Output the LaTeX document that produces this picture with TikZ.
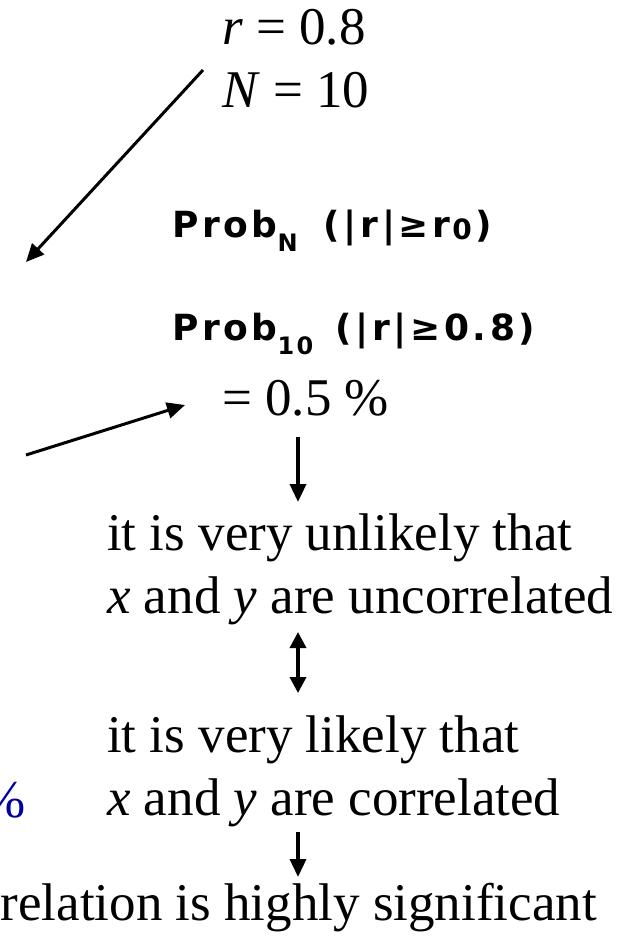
\documentclass[tikz,border=0pt]{standalone}
\usepackage{fontspec}
\setmainfont{Liberation Serif}
\newfontfamily\handfont[LetterSpace=10]{DejaVu Sans}
\usepackage{xcolor}
\usetikzlibrary{arrows.meta}
\definecolor{slideblue}{RGB}{0,0,160}

\begin{document}
\begin{tikzpicture}[x=1pt, y=-1pt,
    txt/.style={inner sep=0pt, anchor=base west, font=\fontsize{53}{64}\selectfont},
    hand/.style={inner sep=0pt, anchor=base west, font=\handfont\bfseries\fontsize{36}{42}\selectfont},
    arrow/.style={-{Triangle[length=18pt, width=16pt]}, line width=3.5pt},
    darrow/.style={{Triangle[length=16pt, width=16pt]}-{Triangle[length=16pt, width=16pt]}, line width=3.5pt}]

\useasboundingbox (0,0) rectangle (633,936);
\clip (0,0) rectangle (633,936);

% Given values
\node[txt] (r) at (222,45) {\textit{r} = 0.8};
\node[txt] (n) at (222,108) {\textit{N} = 10};

% Handwritten probabilities
\node[hand] (probn) at (172,237) {Prob\raisebox{-14pt}{\fontsize{24}{24}\selectfont N}\hspace{10pt} (|r|≥r\hspace{2pt}\raisebox{-2pt}{\fontsize{28}{28}\selectfont 0}\hspace{4pt})};
\node[hand] (prob10) at (172,340) {Prob\raisebox{-14pt}{\fontsize{24}{24}\selectfont 10}\hspace{6pt} (|r|≥0.8)};
\node[txt] (eq) at (222,415) {= 0.5 \%};

% Conclusions
\node[txt] (unl1) at (107,550) {it is very unlikely that};
\node[txt] (unl2) at (107,613) {\textit{x} and \textit{y} are uncorrelated};
\node[txt] (lik1) at (107,752) {it is very likely that};
\node[txt] (lik2) at (107,815) {\textit{x} and \textit{y} are correlated};
\node[txt, anchor=base east] (sig) at (597,920) {relation is highly significant};
\node[txt, anchor=base east, text=slideblue] (pct) at (26,817) {\%};

% Arrows
\coordinate (col) at (298,0);
\coordinate (nfoot) at (203,70);
\coordinate (leftin) at (26,262);
\coordinate (leftout) at (26,455);
\coordinate (eqin) at (185,405);

\draw[arrow, line width=3pt] (nfoot) -- (leftin);
\draw[arrow, line width=3pt] (leftout) -- (eqin);
\draw[arrow, shorten <=22pt, shorten >=48pt] (eq.base -| col) -- (unl1.base -| col);
\draw[darrow, shorten <=19pt, shorten >=59pt] (unl2.base -| col) -- (lik1.base -| col);
\draw[arrow, shorten <=17pt, shorten >=43pt] (lik2.base -| col) -- (sig.base -| col);

\end{tikzpicture}
\end{document}
